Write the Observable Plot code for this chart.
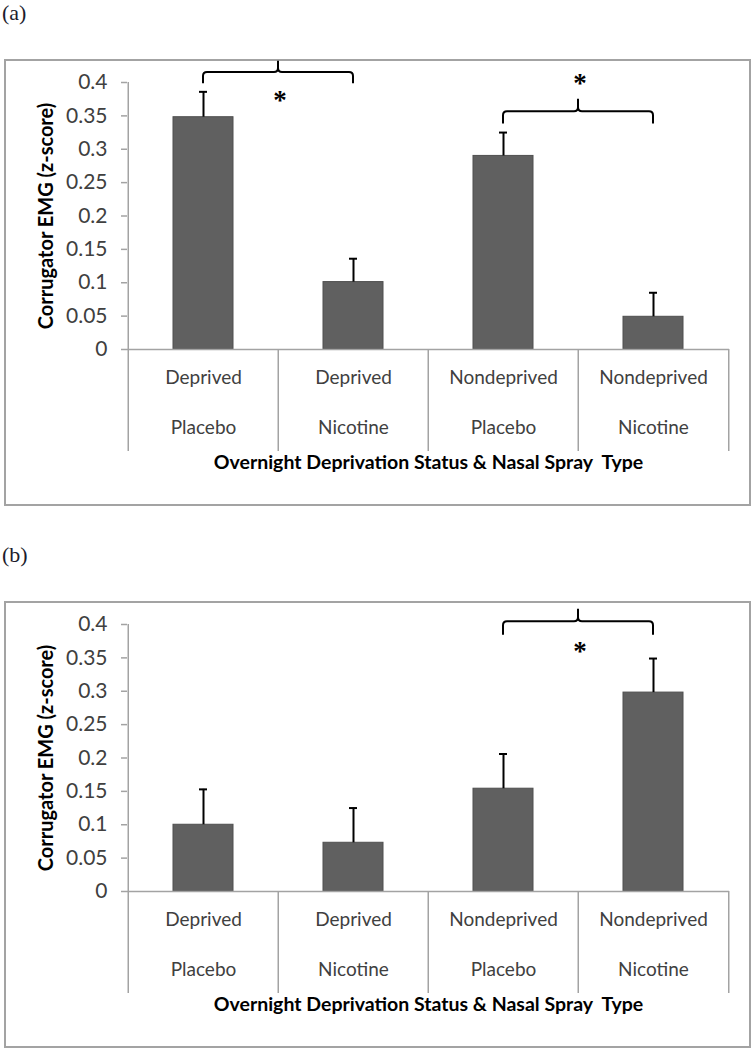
<!DOCTYPE html>
<html>
<head>
<meta charset="utf-8">
<script src="https://cdn.jsdelivr.net/npm/d3@7"></script>
<script src="https://cdn.jsdelivr.net/npm/@observablehq/plot@0.6"></script>
<style>
  body { margin: 0; background: #fff; }
  #root { position: relative; width: 754px; height: 1050px; overflow: hidden; background: #fff; }
  .panel-label { position: absolute; left: 2px; font-family: "Liberation Serif", "Times New Roman", serif; font-size: 22px; line-height: 22px; color: #1c1c2c; }
  .frame { position: absolute; left: 4px; width: 747px; height: 447px; box-sizing: border-box; border: 2px solid #a3a3a3; }
  .plot { position: absolute; left: 4px; }
</style>
</head>
<body>
<div id="root"></div>
<script>
// ---- data ----
const categories = ["Deprived Placebo", "Deprived Nicotine", "Nondeprived Placebo", "Nondeprived Nicotine"];
const deprivationLabels = ["Deprived", "Deprived", "Nondeprived", "Nondeprived"];
const sprayLabels = ["Placebo", "Nicotine", "Placebo", "Nicotine"];
const meansA = [0.348, 0.101, 0.290, 0.049];
const errorsA = [0.038, 0.035, 0.035, 0.036];
const meansB = [0.100, 0.073, 0.154, 0.298];
const errorsB = [0.053, 0.052, 0.052, 0.051];
const yTicks = [0, 0.05, 0.1, 0.15, 0.2, 0.25, 0.3, 0.35, 0.4];
// significance brackets: categories compared, and levels (z-score units)
const bracketsA = [
  {from: 0, to: 1, level: 0.415, end: 0.398, tip: 0.432, star: 0.378},
  {from: 2, to: 3, level: 0.356, end: 0.338, tip: 0.375, star: 0.404}
];
const bracketsB = [
  {from: 2, to: 3, level: 0.404, end: 0.384, tip: 0.423, star: 0.365}
];
const yLabel = "Corrugator EMG (z-score)";
const xLabel = "Overnight Deprivation Status & Nasal Spray  Type";

// ---- layout ----
const W = 747, H = 447;
const mL = 123, mR = 22, mT = 23, mB = 157;
const step = (W - mL - mR) / categories.length;
const grid = "#a3a3a3";
const textColor = "#404040";
const font = "Lato, 'Open Sans', sans-serif";

function bracketMark(list) {
  return function (index, scales) {
    const x = scales.x, y = scales.y;
    const bw = typeof x.bandwidth === "function" ? x.bandwidth() : (x.bandwidth || 0);
    const g = d3.create("svg:g");
    const r = 4;
    for (const b of list) {
      const X1 = x(categories[b.from]) + bw / 2;
      const X2 = x(categories[b.to]) + bw / 2;
      const Xm = (X1 + X2) / 2;
      const Yl = y(b.level), Ye = y(b.end), Yt = y(b.tip);
      const d = `M${X1},${Ye}L${X1},${Yl + r}Q${X1},${Yl} ${X1 + r},${Yl}L${Xm - r},${Yl}Q${Xm},${Yl} ${Xm},${Yl - r}L${Xm},${Yt}` +
                `M${Xm},${Yl - r}Q${Xm},${Yl} ${Xm + r},${Yl}L${X2 - r},${Yl}Q${X2},${Yl} ${X2},${Yl + r}L${X2},${Ye}`;
      g.append("path").attr("d", d).attr("fill", "none").attr("stroke", "#000").attr("stroke-width", 2);
      const fs = 27;
      g.append("text")
        .attr("x", Xm + 2).attr("y", y(b.star) + 0.47 * fs)
        .attr("text-anchor", "middle")
        .attr("font-family", "'Liberation Serif', serif")
        .attr("font-weight", "bold")
        .attr("font-size", fs)
        .attr("fill", "#000")
        .text("*");
    }
    return g.node();
  };
}

function makePanel(means, errors, brackets, top, label) {
  const root = document.getElementById("root");
  const lab = document.createElement("div");
  lab.className = "panel-label";
  lab.style.top = (top - 57) + "px";
  lab.textContent = label;
  root.appendChild(lab);

  const frame = document.createElement("div");
  frame.className = "frame";
  frame.style.top = top + "px";
  root.appendChild(frame);

  const data = categories.map((c, i) => ({
    category: c, dep: deprivationLabels[i], spray: sprayLabels[i], mean: means[i], err: errors[i]
  }));
  const yMax = d3.max(yTicks);

  const chart = Plot.plot({
    width: W, height: H,
    marginLeft: mL, marginRight: mR, marginTop: mT, marginBottom: mB,
    style: {fontFamily: font, fontSize: "19px", color: textColor, background: "transparent", overflow: "visible"},
    x: {domain: categories, paddingInner: 0.6, paddingOuter: 0.3, axis: null},
    y: {domain: [0, yMax], axis: null},
    marks: [
      // y axis line
      Plot.ruleX([categories[0]], {dx: -step / 2, y1: 0, y2: yMax, stroke: grid, strokeWidth: 1.5}),
      Plot.axisY({ticks: yTicks, tickFormat: d => String(+d.toFixed(2)), tickSize: 6, tickPadding: 14,
                  stroke: grid, strokeWidth: 1.5, fill: textColor, fontSize: 21, label: null}),
      // category dividers below the x axis
      Plot.ruleX(categories, {dx: -step / 2, y1: 0, y2: 0, insetBottom: -102, stroke: grid, strokeWidth: 1.5}),
      Plot.ruleX([categories[categories.length - 1]], {dx: step / 2, y1: 0, y2: 0, insetBottom: -102, stroke: grid, strokeWidth: 1.5}),
      // bars
      Plot.barY(data, {x: "category", y: "mean", fill: "#606060", stroke: "#4f4f4f", strokeWidth: 1}),
      Plot.ruleY([0], {stroke: grid, strokeWidth: 1.5}),
      // error bars
      Plot.ruleX(data, {x: "category", y1: "mean", y2: d => d.mean + d.err, stroke: "#000", strokeWidth: 2}),
      Plot.tickY(data, {x: "category", y: d => d.mean + d.err, stroke: "#000", strokeWidth: 2, insetLeft: 26, insetRight: 26}),
      // category labels
      Plot.text(data, {x: "category", text: "dep", frameAnchor: "bottom", dy: 34, fill: textColor, fontSize: 19}),
      Plot.text(data, {x: "category", text: "spray", frameAnchor: "bottom", dy: 84, fill: textColor, fontSize: 19}),
      // axis titles
      Plot.text([xLabel], {frameAnchor: "bottom", dy: 119, fill: "#000", fontWeight: "bold", fontSize: 19.5}),
      Plot.text([yLabel], {frameAnchor: "left", textAnchor: "middle", dx: -81, rotate: -90, fill: "#000", fontWeight: "bold", fontSize: 20}),
      bracketMark(brackets)
    ]
  });
  chart.classList.add("plot");
  chart.style.top = top + "px";
  chart.style.position = "absolute";
  chart.style.left = "4px";
  root.appendChild(chart);
}

makePanel(meansA, errorsA, bracketsA, 59, "(a)");
makePanel(meansB, errorsB, bracketsB, 601, "(b)");
</script>
</body>
</html>
